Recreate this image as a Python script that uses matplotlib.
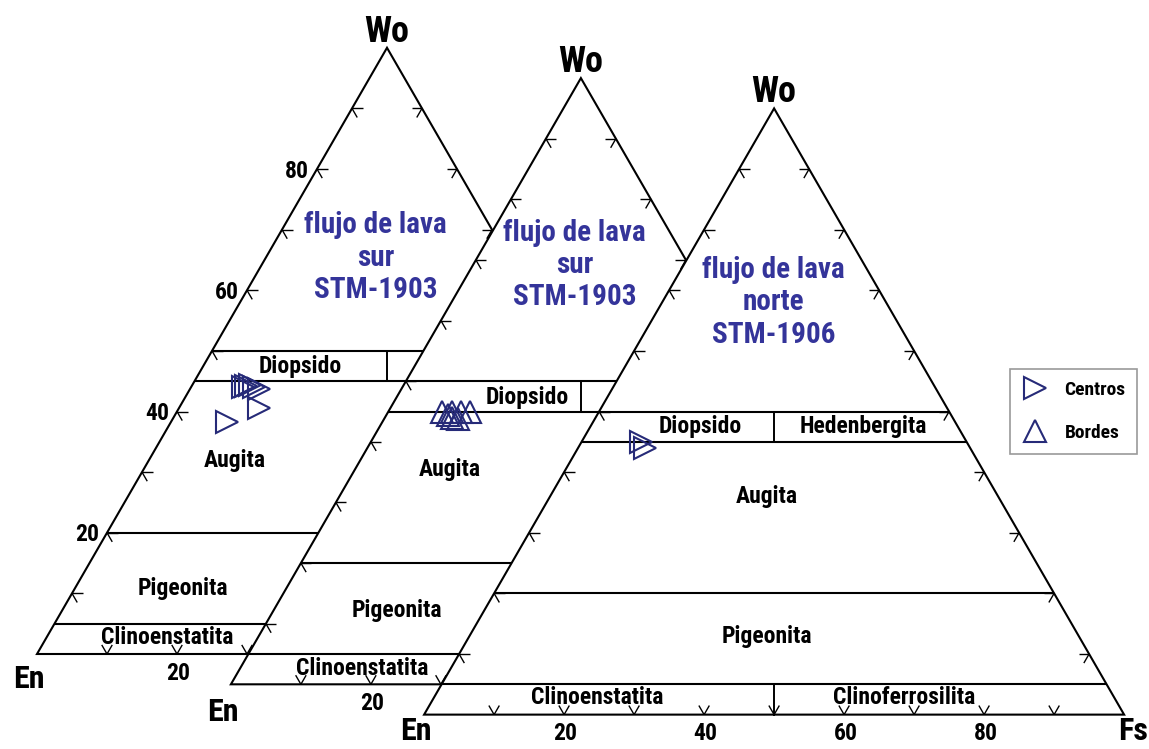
import numpy as np
import matplotlib
matplotlib.use("Agg")
import matplotlib.pyplot as plt
from matplotlib.patches import Polygon
from matplotlib.lines import Line2D
from matplotlib.collections import LineCollection
from matplotlib import font_manager

# ---------------------------------------------------------------
# Pyroxene quadrilateral (Wo-En-Fs), fields after Morimoto (1988)
# ---------------------------------------------------------------
wo_boundaries = [50, 45, 20, 5]          # horizontal field limits, Wo %
divider_bands = [(45, 50), (0, 5)]       # En = Fs split inside these bands
tick_values = [10, 20, 30, 40, 50, 60, 70, 80, 90]
left_tick_labels = ["20", "40", "60", "80"]
left_tick_values = [20, 40, 60, 80]
bottom_tick_labels = ["20", "40", "60", "80"]
bottom_tick_values = [20, 40, 60, 80]

# Analyses, Wo / En / Fs (%)
sur_centros_wo = [44.0, 44.2, 44.4, 44.0, 43.7, 40.6, 38.3]
sur_centros_en = [48.6, 48.1, 47.4, 47.0, 46.5, 48.0, 53.7]
sur_centros_fs = [7.4, 7.7, 8.2, 9.0, 9.8, 11.4, 8.0]

sur_bordes_wo = [44.9, 44.9, 45.0, 44.9, 44.4, 43.9, 43.7]
sur_bordes_en = [47.4, 46.0, 44.7, 43.4, 46.8, 46.5, 45.7]
sur_bordes_fs = [7.7, 9.1, 10.3, 11.7, 8.8, 9.6, 10.6]

norte_centros_wo = [44.9, 44.0]
norte_centros_en = [46.5, 46.4]
norte_centros_fs = [8.6, 9.6]

# ---------------------------------------------------------------
# styling
# ---------------------------------------------------------------
names = {f.name for f in font_manager.fontManager.ttflist}
FONT, SCALE = ["Liberation Sans", "DejaVu Sans"], 0.84
for cand in ("Liberation Sans Narrow", "Arial Narrow", "Roboto Condensed",
             "Archivo Narrow", "PT Sans Narrow"):
    if cand in names:
        FONT, SCALE = [cand, "DejaVu Sans"], 1.0
        break
plt.rcParams["font.family"] = FONT
plt.rcParams["font.weight"] = "bold"

NAVY_TEXT = "#34349a"
NAVY_MARK = "#262a78"
H = np.sqrt(3) / 2
TICK_LEN = 1.5
MS = 16.5

fig = plt.figure(figsize=(11.49, 7.49), dpi=100)
ax = fig.add_axes([0, 0, 1, 1])
ax.set_xlim(-37 / 7, (1149 - 37) / 7)
ax.set_ylim((654 - 749) / 7, 654 / 7)
ax.axis("off")


def tern(origin, wo, fs):
    ox, oy = origin
    wo = np.asarray(wo, dtype=float)
    fs = np.asarray(fs, dtype=float)
    return ox + fs + wo / 2, oy + wo * H


def draw_diagram(origin, z, title, fields, left_labels, bottom_labels,
                 corner_drop, show_fs, points):
    ox, oy = origin
    corners = [tern(origin, 0, 0), tern(origin, 0, 100), tern(origin, 100, 0)]
    ax.add_patch(Polygon(corners, closed=True, facecolor="white",
                         edgecolor="black", lw=1.5, zorder=z, joinstyle="miter"))

    # field boundaries
    for w in wo_boundaries:
        x0, y0 = tern(origin, w, 0)
        x1, y1 = tern(origin, w, 100 - w)
        ax.plot([x0, x1], [y0, y1], color="black", lw=1.5, zorder=z + 1,
                solid_capstyle="butt")
    for lo, hi in divider_bands:
        ax.plot([ox + 50, ox + 50], [oy + lo * H, oy + hi * H], color="black",
                lw=1.4, zorder=z + 1)

    # chevron ticks along the three edges
    segs = []
    for t in tick_values:
        lx, ly = tern(origin, t, 0)
        segs += [[(lx, ly), (lx + TICK_LEN, ly)],
                 [(lx, ly), (lx + 0.5 * TICK_LEN, ly - H * TICK_LEN)]]
        rx, ry = tern(origin, t, 100 - t)
        segs += [[(rx, ry), (rx - TICK_LEN, ry)],
                 [(rx, ry), (rx - 0.5 * TICK_LEN, ry - H * TICK_LEN)]]
        bx, by = tern(origin, 0, t)
        segs += [[(bx, by), (bx - 0.5 * TICK_LEN, by + H * TICK_LEN)],
                 [(bx, by), (bx + 0.5 * TICK_LEN, by + H * TICK_LEN)]]
    ax.add_collection(LineCollection(segs, colors="black", linewidths=1.0,
                                     zorder=z + 1))

    # tick labels
    for lab, v in left_labels:
        x, y = tern(origin, v, 0)
        ax.text(x - 1.1, y - 0.3, lab, ha="right", va="center",
                fontsize=17 * SCALE, zorder=z + 3)
    for lab, v in bottom_labels:
        x, y = tern(origin, 0, v)
        ax.text(x + 0.2, y - 1.1, lab, ha="center", va="top",
                fontsize=17 * SCALE, zorder=z + 3)

    # apex labels
    ax.text(ox + 50, oy + 100 * H + 0.85, "Wo", ha="center", va="baseline",
            fontsize=26 * SCALE, zorder=z + 3)
    ax.text(ox - 1.2, oy - corner_drop, "En", ha="center", va="baseline",
            fontsize=23 * SCALE, zorder=z + 3)
    if show_fs:
        ax.text(ox + 101.3, oy - corner_drop, "Fs", ha="center",
                va="baseline", fontsize=23 * SCALE, zorder=z + 3)

    # sample title
    tx, ty, ttxt = title
    ax.text(ox + tx, oy + ty, ttxt, ha="center", va="center",
            color=NAVY_TEXT, fontsize=21 * SCALE, linespacing=1.2,
            zorder=z + 3)

    # field names
    for name, (fx, fy) in fields.items():
        ax.text(ox + fx, oy + fy, name, ha="center", va="center",
                fontsize=17 * SCALE, zorder=z + 3)

    # analyses
    for marker, wo, fs in points:
        px, py = tern(origin, wo, fs)
        ax.plot(px, py, ls="none", marker=marker, ms=MS, mfc="none",
                mec=NAVY_MARK, mew=1.5, zorder=z + 2)


draw_diagram(
    (0.0, 0.0), 10,
    (48.4, 56.6, "flujo de lava\nsur\nSTM-1903"),
    {"Diopsido": (37.6, 41.1), "Augita": (28.3, 27.7),
     "Pigeonita": (20.9, 9.4), "Clinoenstatita": (18.6, 2.3)},
    list(zip(left_tick_labels, left_tick_values)),
    list(zip(bottom_tick_labels, bottom_tick_values))[:1],
    4.85, False,
    [(">", sur_centros_wo, sur_centros_fs)],
)
draw_diagram(
    (27.7, -4.33), 20,
    (49.1, 59.9, "flujo de lava\nsur\nSTM-1903"),
    {"Diopsido": (42.4, 41.0), "Augita": (31.3, 30.7),
     "Pigeonita": (23.7, 10.6), "Clinoenstatita": (18.7, 2.3)},
    [],
    list(zip(bottom_tick_labels, bottom_tick_values))[:1],
    5.3, False,
    [("^", sur_bordes_wo, sur_bordes_fs)],
)
draw_diagram(
    (55.3, -8.66), 30,
    (49.9, 58.9, "flujo de lava\nnorte\nSTM-1906"),
    {"Diopsido": (39.4, 41.1), "Hedenbergita": (62.7, 41.1),
     "Augita": (49.0, 31.1), "Pigeonita": (49.0, 11.1),
     "Clinoenstatita": (24.7, 2.4), "Clinoferrosilita": (68.6, 2.4)},
    [],
    list(zip(bottom_tick_labels, bottom_tick_values)),
    3.6, True,
    [(">", norte_centros_wo, norte_centros_fs)],
)

handles = [
    Line2D([], [], ls="none", marker=">", ms=MS, mfc="none", mec=NAVY_MARK,
           mew=1.5, label="Centros"),
    Line2D([], [], ls="none", marker="^", ms=MS, mfc="none", mec=NAVY_MARK,
           mew=1.5, label="Bordes"),
]
leg = ax.legend(handles=handles, loc="upper left",
                bbox_to_anchor=(1010 / 1149, 1 - 369 / 749),
                frameon=True, fancybox=False, edgecolor="#808080",
                prop={"weight": "bold", "size": 14 * SCALE},
                handlelength=1.4, handletextpad=0.8, labelspacing=1.3,
                borderpad=0.6, borderaxespad=0)
leg.get_frame().set_linewidth(1.2)
leg.set_zorder(100)

fig.savefig("out.png", dpi=100)
